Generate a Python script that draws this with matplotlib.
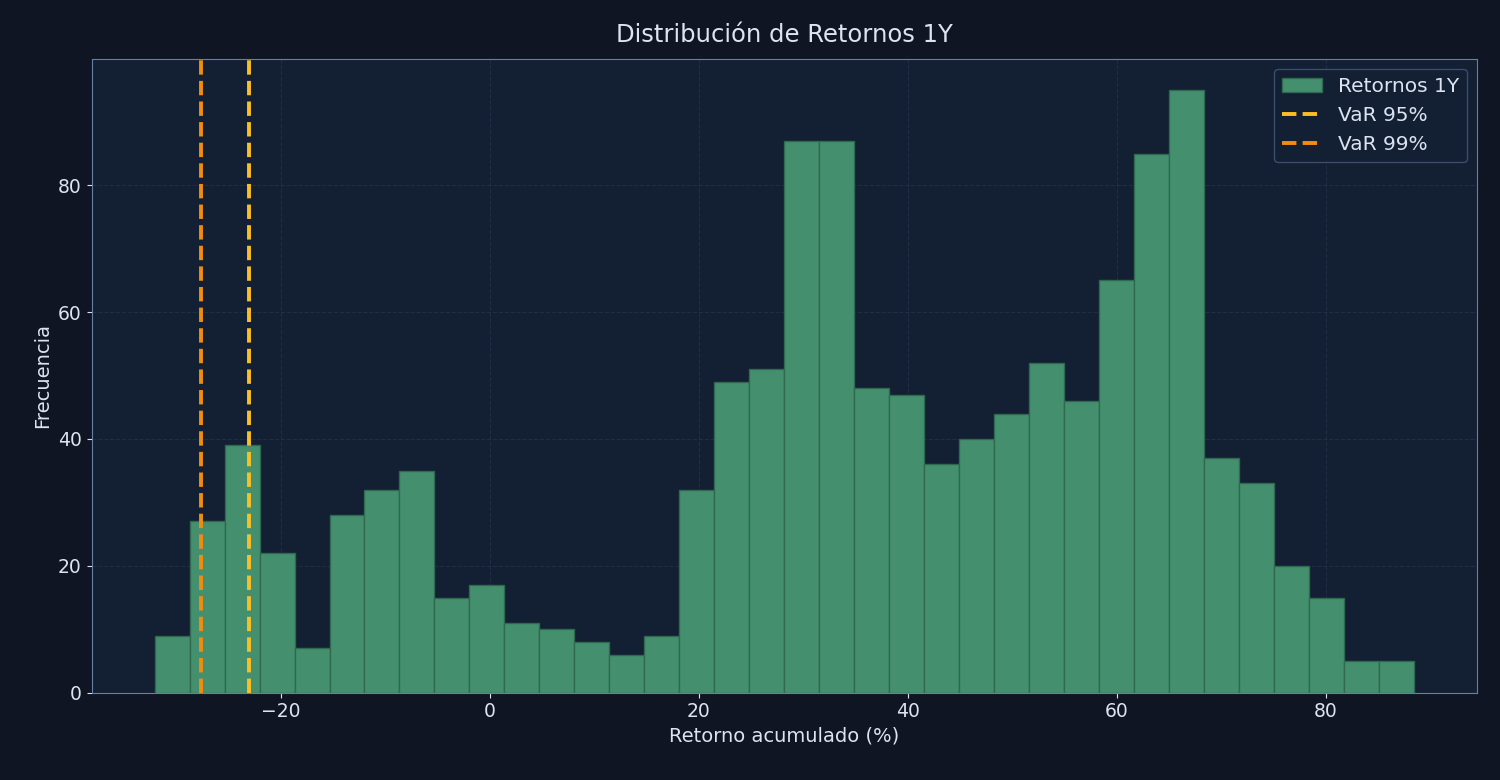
import matplotlib
matplotlib.use("Agg")
import matplotlib.pyplot as plt
import numpy as np

# bin range and counts
BIN_START = -32.06
BIN_END = 88.4
COUNTS = [9, 27, 39, 22, 7, 28, 32, 35, 15, 17, 11, 10, 8, 6, 9, 32, 49, 51,
          87, 87, 48, 47, 36, 40, 44, 52, 46, 65, 85, 95, 37, 33, 20, 15, 5, 5]
VAR95 = -23.06
VAR99 = -27.65

FIG_BG = "#0f1522"
AX_BG = "#131f33"
TXT = "#dbe4f0"

edges = np.linspace(BIN_START, BIN_END, len(COUNTS) + 1)

fig, ax = plt.subplots(figsize=(15, 7.8), dpi=100)
fig.patch.set_facecolor(FIG_BG)
ax.set_facecolor(AX_BG)

ax.hist(edges[:-1], bins=edges, weights=COUNTS, color="#44906e",
        edgecolor="#2f6a50", linewidth=1, label="Retornos 1Y", zorder=2)
ax.axvline(VAR95, color="#fbbf24", linestyle="--", linewidth=2.8, label="VaR 95%", zorder=3)
ax.axvline(VAR99, color="#f28c0f", linestyle="--", linewidth=2.8, label="VaR 99%", zorder=3)

ax.set_xlim(-38.1, 94.5)
ax.set_ylim(0, 100)
ax.set_yticks([0, 20, 40, 60, 80])
ax.grid(True, linestyle="--", color="#2a3850", alpha=0.6, linewidth=0.8, zorder=0)
for s in ax.spines.values():
    s.set_color("#6680a3")
ax.tick_params(colors=TXT, labelsize=13.5)
ax.set_title("Distribución de Retornos 1Y", color=TXT, fontsize=17.5, pad=12)
ax.set_xlabel("Retorno acumulado (%)", color=TXT, fontsize=14)
ax.set_ylabel("Frecuencia", color=TXT, fontsize=14)

leg = ax.legend(loc="upper right", fontsize=14.5, facecolor=AX_BG, edgecolor="#3a4d6a",
                framealpha=1)
for t in leg.get_texts():
    t.set_color(TXT)

fig.subplots_adjust(left=0.061, right=0.985, top=0.925, bottom=0.112)
fig.savefig("out.png", dpi=100, facecolor=FIG_BG)
